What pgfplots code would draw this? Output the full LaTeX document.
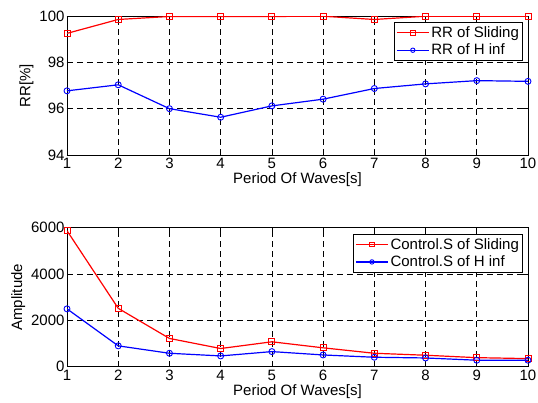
\documentclass[border=0pt]{standalone}
\usepackage{pgfplots}
\pgfplotsset{compat=1.18}
\usepackage{fontspec}
\setmainfont{Liberation Sans}

\newcommand{\fs}{\fontsize{15bp}{17bp}\selectfont}

\pgfplotsset{
  panel/.style={
    scale only axis, width=461bp, height=139bp,
    xmin=1, xmax=10, xtick={1,...,10},
    grid=major,
    major grid style={black, line width=0.7bp, dash pattern=on 6bp off 4bp},
    axis line style={black, line width=0.9bp},
    tick style={black, line width=0.7bp}, tick align=inside,
    major tick length=5bp,
    xtick pos=both, ytick pos=both,
    tick label style={font=\fs},
    xticklabel style={yshift=0.5bp},
    yticklabel style={xshift=1bp},
    label style={font=\fs},
    /pgf/number format/assume math mode=true,
    /pgf/number format/1000 sep={},
    xlabel={Period Of Waves[s]},
    xlabel style={yshift=3bp},
    legend style={at={(0.99,0.955)}, anchor=north east, draw=black, line width=0.9bp,
      font=\fs, inner xsep=2bp, inner ysep=2bp, row sep=1bp},
    legend cell align=left,
    legend image code/.code={%
      \draw[mark repeat=2, mark phase=2, mark size=2.2bp]
        plot coordinates {(0bp,0bp)(16bp,0bp)(32bp,0bp)};},
  },
  redline/.style={red, line width=1.2bp, mark=square, mark size=3bp,
    mark options={solid, line width=0.9bp}},
  blueline/.style={blue, line width=1.2bp, mark=o, mark size=3bp,
    mark options={solid, line width=0.9bp}},
}

\begin{document}
\begin{tikzpicture}
\useasboundingbox (-67bp,-248bp) rectangle (471bp,155bp);
\begin{axis}[panel, at={(0,0)}, anchor=south west,
  ymin=94, ymax=100, ytick={94,96,98,100},
  ylabel={RR[\%]}, ylabel style={yshift=-1bp}]
\addplot[redline] coordinates {(1,99.25)(2,99.85)(3,99.98)(4,99.98)(5,99.98)(6,99.99)(7,99.85)(8,99.99)(9,99.99)(10,99.99)};
\addplot[blueline] coordinates {(1,96.77)(2,97.03)(3,96.00)(4,95.63)(5,96.12)(6,96.41)(7,96.87)(8,97.07)(9,97.21)(10,97.18)};
\legend{RR of Sliding, RR of H inf}
\end{axis}
\begin{axis}[panel, at={(0,-211.7bp)}, anchor=south west,
  ymin=0, ymax=6000, ytick={0,2000,4000,6000}, scaled y ticks=false,
  ylabel={Amplitude}, ylabel style={yshift=-1bp}]
\addplot[redline] coordinates {(1,5870)(2,2520)(3,1220)(4,785)(5,1075)(6,815)(7,580)(8,495)(9,390)(10,350)};
\addplot[blueline] coordinates {(1,2497)(2,900)(3,580)(4,465)(5,652)(6,507)(7,408)(8,377)(9,280)(10,280)};
\legend{Control.S of Sliding, Control.S of H inf}
\end{axis}
\end{tikzpicture}
\end{document}
